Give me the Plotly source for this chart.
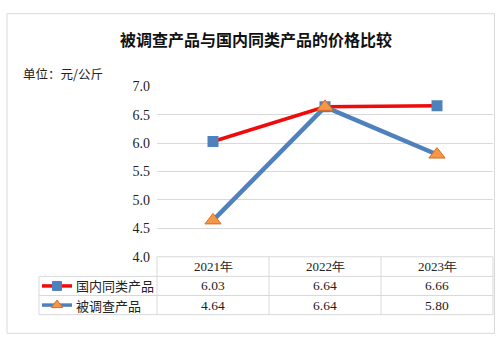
import plotly.graph_objects as go

# Data
years = ["2021年", "2022年", "2023年"]
domestic = [6.03, 6.64, 6.66]
surveyed = [4.64, 6.64, 5.80]
series_names = ["国内同类产品", "被调查产品"]
y_ticks = [4.0, 4.5, 5.0, 5.5, 6.0, 6.5, 7.0]

W, H = 503, 348
# plot area in pixels
L, R, T, B = 157, 493, 83, 261
GRID = "#D9D9D9"
CJK = "Noto Sans CJK SC"
SERIF = "Liberation Serif"

RED = "#F00A0A"
BLUE = "#4F81BD"
ORANGE = "#F79646"
ORANGE_EDGE = "#D86C24"


def px(x):
    return x / W


def py(y):
    return 1 - y / H


fig = go.Figure()
xs = list(range(len(years)))

fig.add_trace(go.Scatter(
    x=xs, y=domestic, mode="lines+markers", name=series_names[0],
    line=dict(color=RED, width=3.5),
    marker=dict(symbol="square", size=11, color=BLUE, line=dict(width=0)),
    xaxis="x", yaxis="y",
))
fig.add_trace(go.Scatter(
    x=xs, y=surveyed, mode="lines+markers", name=series_names[1],
    line=dict(color=BLUE, width=4.5),
    marker=dict(symbol="triangle-up", size=14, color=ORANGE,
                line=dict(width=1, color=ORANGE_EDGE)),
    xaxis="x", yaxis="y",
))

# legend keys inside the data table (full-figure pixel-space axis)
row_y = [291.5, 311.5]
key_x0, key_x1 = 42, 72
styles = [
    (RED, 3.5, "square", 9, BLUE, BLUE),
    (BLUE, 3.5, "triangle-up", 10, ORANGE, ORANGE_EDGE),
]
for (lc, lw, sym, ms, mc, me), yy in zip(styles, row_y):
    fig.add_trace(go.Scatter(
        x=[key_x0, key_x1], y=[yy, yy], mode="lines",
        line=dict(color=lc, width=lw), xaxis="x2", yaxis="y2",
        hoverinfo="skip",
    ))
    fig.add_trace(go.Scatter(
        x=[(key_x0 + key_x1) / 2], y=[yy], mode="markers",
        marker=dict(symbol=sym, size=ms, color=mc, line=dict(width=1, color=me)),
        xaxis="x2", yaxis="y2", hoverinfo="skip",
    ))

shapes = []
# outer chart border
shapes.append(dict(type="rect", xref="paper", yref="paper",
                   x0=px(7), x1=px(494.5), y0=py(7), y1=py(341),
                   line=dict(color=GRID, width=1)))
# table grid
col_edges = [L + i * (R - L) / 3 for i in range(4)]
row_edges = [261, 281.5, 301.5, 321.5]
for i, yy in enumerate(row_edges):
    x0 = L if i == 0 else 39
    shapes.append(dict(type="line", xref="paper", yref="paper",
                       x0=px(x0), x1=px(R), y0=py(yy), y1=py(yy),
                       line=dict(color=GRID, width=1)))
for xx in col_edges:
    shapes.append(dict(type="line", xref="paper", yref="paper",
                       x0=px(xx), x1=px(xx), y0=py(261), y1=py(321.5),
                       line=dict(color=GRID, width=1)))
shapes.append(dict(type="line", xref="paper", yref="paper",
                   x0=px(39), x1=px(39), y0=py(281.5), y1=py(321.5),
                   line=dict(color=GRID, width=1)))

annotations = []
annotations.append(dict(text="<b>被调查产品与国内同类产品的价格比较</b>",
                        x=px(256), y=py(33), xref="paper", yref="paper",
                        showarrow=False, xanchor="center", yanchor="middle",
                        font=dict(family=CJK, size=16, color="#111")))
annotations.append(dict(text="单位：元/公斤",
                        x=px(21), y=py(70), xref="paper", yref="paper",
                        showarrow=False, xanchor="left", yanchor="middle",
                        font=dict(family=CJK, size=12.5, color="#222")))

centers = [(col_edges[i] + col_edges[i + 1]) / 2 for i in range(3)]
for c, yr in zip(centers, years):
    annotations.append(dict(text=yr, x=px(c), y=py(271.5), xref="paper", yref="paper",
                            showarrow=False, xanchor="center", yanchor="middle",
                            font=dict(family=SERIF, size=13, color="#222")))
for name, vals, yy in zip(series_names, [domestic, surveyed], row_y):
    annotations.append(dict(text=name, x=px(74), y=py(yy), xref="paper", yref="paper",
                            showarrow=False, xanchor="left", yanchor="middle",
                            font=dict(family=CJK, size=13, color="#222")))
    for c, v in zip(centers, vals):
        annotations.append(dict(text=f"{v:.2f}", x=px(c), y=py(yy), xref="paper", yref="paper",
                                showarrow=False, xanchor="center", yanchor="middle",
                                font=dict(family=SERIF, size=13.5, color="#222")))

fig.update_layout(
    width=W, height=H,
    margin=dict(l=0, r=0, t=0, b=0),
    paper_bgcolor="white", plot_bgcolor="rgba(0,0,0,0)",
    showlegend=False,
    xaxis=dict(domain=[px(L), px(R)], range=[-0.5, 2.5], showticklabels=False,
               showgrid=False, zeroline=False, showline=False, fixedrange=True),
    yaxis=dict(domain=[py(B), py(T)], range=[4.0, 7.0], tickvals=y_ticks,
               ticktext=[f"{v:.1f}" for v in y_ticks], showgrid=True,
               gridcolor=GRID, gridwidth=1, zeroline=False, showline=False,
               ticks="", ticklabelstandoff=6,
               tickfont=dict(family=SERIF, size=14, color="#222")),
    xaxis2=dict(domain=[0, 1], range=[0, W], visible=False, anchor="y2"),
    yaxis2=dict(domain=[0, 1], range=[H, 0], visible=False, anchor="x2"),
    shapes=shapes,
    annotations=annotations,
)

fig.write_html("out.html")
